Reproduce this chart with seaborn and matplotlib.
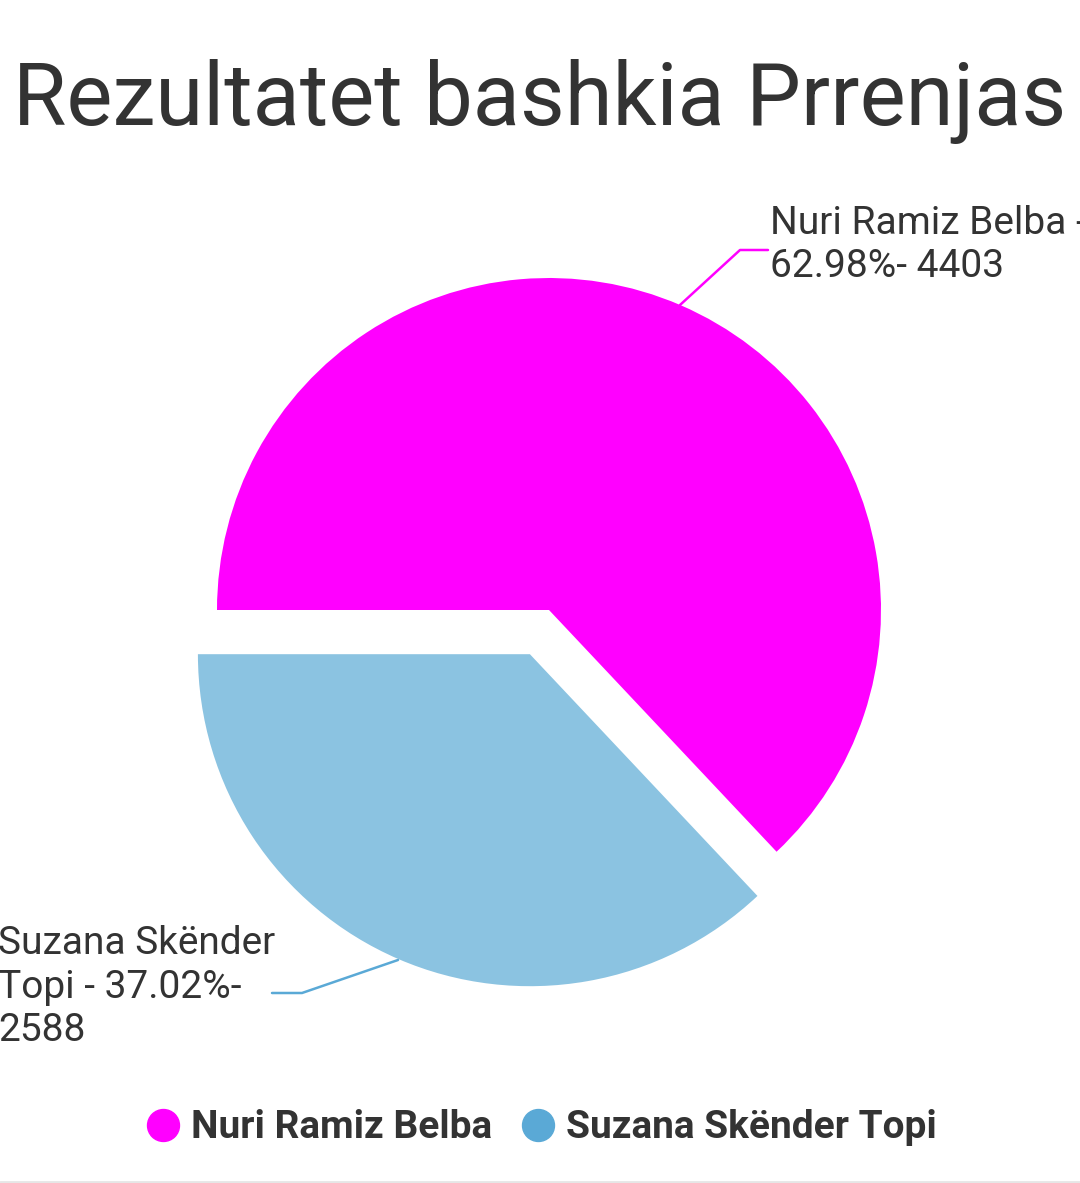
import matplotlib
matplotlib.use('Agg')
import matplotlib.pyplot as plt
from matplotlib.lines import Line2D
import seaborn as sns

# data
candidates = ['Nuri Ramiz Belba', 'Suzana Skënder Topi']
votes = [4403, 2588]
shares = [62.98, 37.02]
labels = ['Nuri Ramiz Belba -\n62.98%- 4403', 'Suzana Skënder\nTopi - 37.02%-\n2588']

slice_colors = ['#FF00FF', '#8BC3E1']
marker_colors = ['#FF00FF', '#5AA9D6']
text_color = '#333333'

sns.set_theme(style='white')
plt.rcParams['font.family'] = ['Roboto', 'DejaVu Sans']

W, H = 1080, 1183
fig = plt.figure(figsize=(W / 100, H / 100), dpi=100)
fig.patch.set_facecolor('white')

# pie centre (pixels from top-left) and radius
cx, cy, r = 549, 610, 332
ax = fig.add_axes([(cx - r) / W, (H - cy - r) / H, 2 * r / W, 2 * r / H])
ax.set_aspect('equal')
ax.axis('off')

wedges, _ = ax.pie(votes, colors=slice_colors, startangle=180, counterclock=False,
                   explode=[0, 0.145], radius=1, center=(0, 0),
                   wedgeprops=dict(linewidth=0))
ax.set_xlim(-1, 1)
ax.set_ylim(-1, 1)

# data labels with connectors (figure pixels, y from top)
fig.add_artist(Line2D([680 / W, 740 / W, 768 / W], [(H - 305) / H, (H - 250) / H, (H - 250) / H],
                      transform=fig.transFigure, color='#FF00FF', lw=1.8))
fig.text(770 / W, (H - 245) / H, labels[0], ha='left', va='center', fontsize=28,
         color=text_color, linespacing=1.22)

fig.add_artist(Line2D([398 / W, 302 / W, 272 / W], [(H - 960) / H, (H - 993) / H, (H - 993) / H],
                      transform=fig.transFigure, color='#5AA9D6', lw=1.8))
fig.text(-2 / W, (H - 987) / H, labels[1], ha='left', va='center', fontsize=28,
         color=text_color, linespacing=1.22)

# title
fig.text(540 / W, (H - 101) / H, 'Rezultatet bashkia Prrenjas', ha='center', va='center',
         fontsize=62.5, color=text_color)

# legend
handles = [Line2D([0], [0], marker='o', color='none', markerfacecolor=c, markeredgecolor=c,
                  markersize=23) for c in marker_colors]
leg = fig.legend(handles, candidates, loc='center', bbox_to_anchor=(542 / W, (H - 1128) / H),
                 ncol=2, frameon=False, handlelength=0.8, handletextpad=0.3,
                 columnspacing=0.8, prop=dict(family=['Roboto', 'DejaVu Sans'], weight='bold', size=28))
for t in leg.get_texts():
    t.set_color(text_color)

# bottom border
fig.add_artist(Line2D([0, 1], [1.5 / H, 1.5 / H], transform=fig.transFigure, color='#E6E6E6', lw=2))

fig.savefig('out.png', dpi=100, facecolor='white')
